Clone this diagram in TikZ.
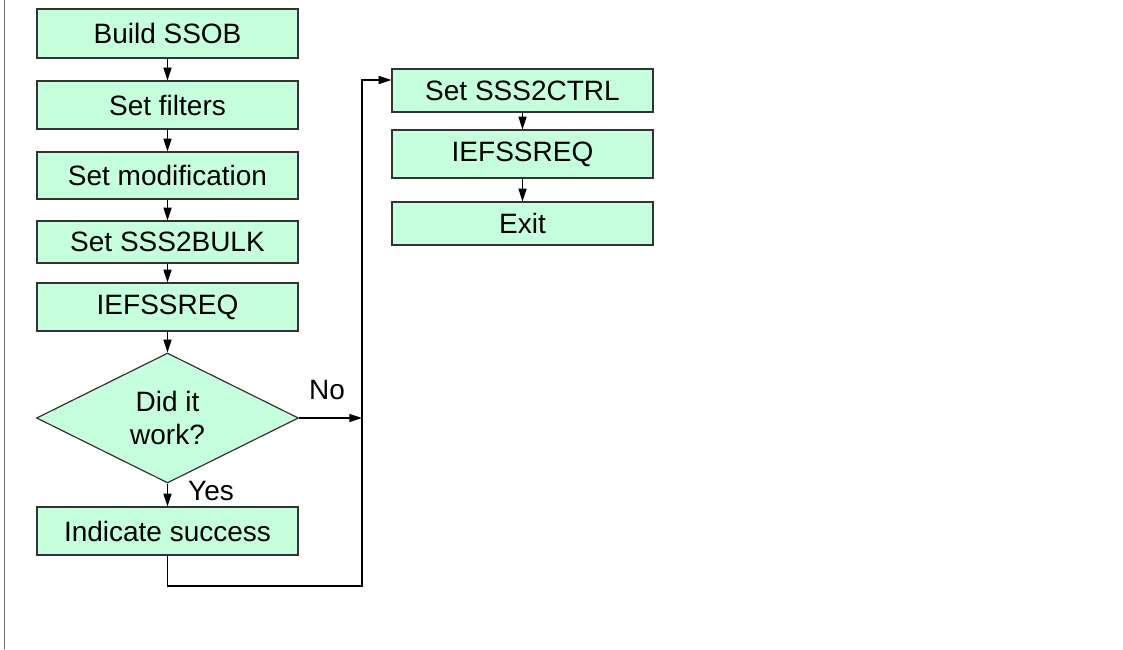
\documentclass[tikz,border=0pt]{standalone}
\usepackage{fontspec}
\setmainfont{Liberation Sans}
\usetikzlibrary{arrows.meta,shapes.geometric}
\definecolor{mint}{RGB}{198,255,221}
\definecolor{edge}{RGB}{51,51,51}

\begin{document}
\begin{tikzpicture}[x=0.75pt,y=0.75pt,yscale=-1,xscale=1,
  box/.style={draw=edge,fill=mint,line width=0.9pt,minimum width=195.75pt,inner sep=0pt,font=\fontsize{21}{24}\selectfont},
  decision/.style={diamond,draw=edge,fill=mint,line width=0.9pt,minimum width=196.5pt,minimum height=97.5pt,inner sep=0pt,align=center,font=\fontsize{21}{24.75}\selectfont},
  arr/.style={-{Triangle[length=9.5pt,width=6pt]},line width=0.9pt},
  lbl/.style={inner sep=0pt,font=\fontsize{21}{24}\selectfont}]
\useasboundingbox (0,0) rectangle (1123,649);

%left frame line
\draw [color={rgb, 255:red, 110; green, 110; blue, 110 }, line width=1.4pt] (4.5,0) -- (4.5,649);

%Shape: Rectangle (left column)
\node [box, minimum height=36.75pt] (ssob) at (167.5,33.5) {Build SSOB};
\node [box, minimum height=36pt] (filters) at (167.5,105) {Set filters};
\node [box, minimum height=35.25pt] (modif) at (167.5,175.5) {Set modification};
\node [box, minimum height=31.5pt] (bulk) at (167.5,242) {Set SSS2BULK};
\node [box, minimum height=36pt] (req) at (167.5,307) {IEFSSREQ};
%Shape: Diamond
\node [decision] (work) at (167.5,418) {Did it\\work?};
\node [box, minimum height=36pt] (success) at (167.5,531) {Indicate success};

%Shape: Rectangle (right column)
\node [box, minimum height=32.25pt] (ctrl) at (522.5,90.5) {Set SSS2CTRL};
\node [box, minimum height=36pt] (req2) at (522.5,154) {IEFSSREQ};
\node [box, minimum height=32.25pt] (exit) at (522.5,223.5) {Exit};

% Text Node
\node [lbl] (no) at (327,390) {No};
\node [lbl] (yes) at (211,491) {Yes};

\coordinate (merge) at (362,418);
\coordinate (loop) at (362,586);
\coordinate (up) at (362,80);

%Straight Lines
\draw [arr] (ssob) -- (filters);
\draw [arr] (filters) -- (modif);
\draw [arr] (modif) -- (bulk);
\draw [arr] (bulk) -- (req);
\draw [arr] (req) -- (work);
\draw [arr] (work) -- (success);
\draw [arr] (work.east) -- (merge);
\draw [arr] (success.south) |- (loop) -- (up) -- (up -| ctrl.west);
\draw [arr] (ctrl) -- (req2);
\draw [arr] (req2) -- (exit);

\end{tikzpicture}
\end{document}
